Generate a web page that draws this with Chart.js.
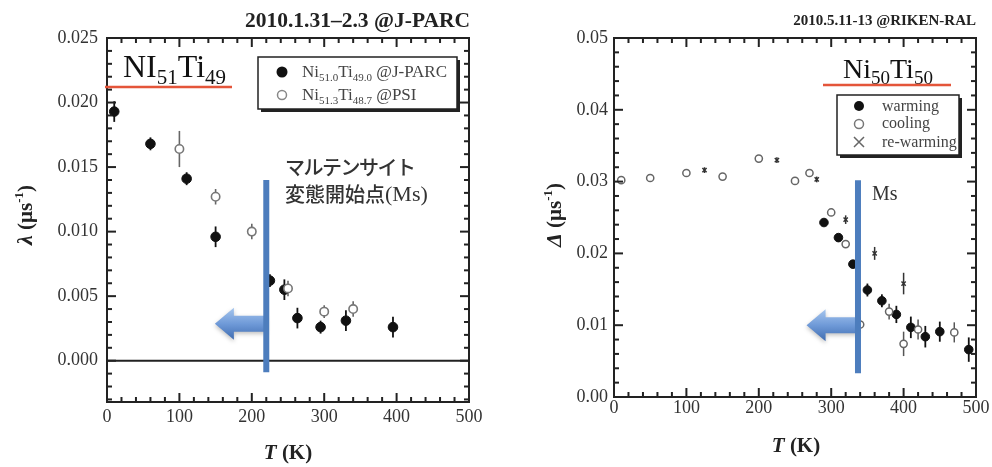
<!DOCTYPE html>
<html>
<head>
<meta charset="utf-8">
<script src="https://cdn.jsdelivr.net/npm/chart.js@4.4.1/dist/chart.umd.min.js"></script>
<style>
  html, body { margin: 0; padding: 0; background: #fff; }
  #wrap { position: relative; width: 992px; height: 467px; overflow: hidden; }
  .pane { position: absolute; top: 0; width: 496px; height: 467px; }
</style>
</head>
<body>
<div id="wrap">
  <div class="pane" style="left:0"><canvas id="left" width="496" height="467"></canvas></div>
  <div class="pane" style="left:496px"><canvas id="right" width="496" height="467"></canvas></div>
</div>
<script>
const SERIF = '"Liberation Serif", "Times New Roman", serif';
const CJK = '"Noto Sans CJK JP", sans-serif';

// ---- Ni51Ti49 relaxation rate (left panel) ----
const jparcT      = [10, 60, 110, 150, 225, 245, 263, 295, 330, 395];
const jparcLambda = [0.0193, 0.0168, 0.0141, 0.0096, 0.0062, 0.0055, 0.0033, 0.0026, 0.0031, 0.0026];
const jparcErr    = [0.0008, 0.0005, 0.0005, 0.0008, 0.0005, 0.0008, 0.0008, 0.0005, 0.0008, 0.0008];
const psiT        = [100, 150, 200, 250, 300, 340];
const psiLambda   = [0.0164, 0.0127, 0.0100, 0.0056, 0.0038, 0.0040];
const psiErr      = [0.0014, 0.0006, 0.0006, 0.0006, 0.0005, 0.0006];

// ---- Ni50Ti50 field distribution width (right panel) ----
const warmT     = [290, 310, 330, 350, 370, 390, 410, 430, 450, 490];
const warmDelta = [0.0243, 0.0222, 0.0185, 0.0149, 0.0134, 0.0115, 0.0097, 0.0084, 0.0091, 0.0066];
const warmErr   = [0.0004, 0.0004, 0.0005, 0.0009, 0.0009, 0.0012, 0.0015, 0.0015, 0.0014, 0.0017];
const coolT     = [10, 50, 100, 150, 200, 250, 270, 300, 320, 340, 380, 400, 420, 470];
const coolDelta = [0.0302, 0.0305, 0.0312, 0.0307, 0.0332, 0.0301, 0.0312, 0.0257, 0.0213, 0.0101, 0.0119, 0.0074, 0.0094, 0.0090];
const coolErr   = [0.0003, 0.0003, 0.0003, 0.0003, 0.0003, 0.0003, 0.0003, 0.0003, 0.0004, 0.0010, 0.0011, 0.0017, 0.0014, 0.0014];
const rewarmT     = [125, 225, 280, 320, 360, 400];
const rewarmDelta = [0.0316, 0.0330, 0.0303, 0.0247, 0.0200, 0.0158];
const rewarmErr   = [0.0004, 0.0004, 0.0004, 0.0006, 0.0009, 0.0015];

// ---- axis ticks ----
const tempTicks   = [0, 100, 200, 300, 400, 500];
const lambdaTicks = [0, 0.005, 0.010, 0.015, 0.020, 0.025];
const deltaTicks  = [0, 0.01, 0.02, 0.03, 0.04, 0.05];

// martensite start temperatures marked on each panel (K)
const msLeft = 220;
const msRight = 337;

function points(xs, ys, es) {
  return xs.map((x, i) => ({ x: x, y: ys[i], e: es[i] }));
}

function richText(ctx, parts, x, y, align) {
  let w = 0;
  parts.forEach(p => { ctx.font = p[1]; w += ctx.measureText(p[0]).width; });
  let cx = align === 'center' ? x - w / 2 : (align === 'right' ? x - w : x);
  ctx.textAlign = 'left';
  ctx.textBaseline = 'alphabetic';
  parts.forEach(p => {
    ctx.font = p[1];
    ctx.fillText(p[0], cx, y + (p[2] || 0));
    cx += ctx.measureText(p[0]).width;
  });
  return w;
}

// vertical error bars behind the markers
const errorBars = {
  id: 'errorBars',
  beforeDatasetsDraw(chart) {
    const { ctx, scales: { x, y } } = chart;
    chart.data.datasets.forEach(ds => {
      if (!ds.errColor) return;
      ctx.save();
      ctx.strokeStyle = ds.errColor;
      ctx.lineWidth = ds.errWidth || 1.6;
      ds.data.forEach(p => {
        if (!p.e) return;
        const px = x.getPixelForValue(p.x);
        ctx.beginPath();
        ctx.moveTo(px, y.getPixelForValue(p.y - p.e));
        ctx.lineTo(px, y.getPixelForValue(p.y + p.e));
        ctx.stroke();
      });
      ctx.restore();
    });
  }
};

// boxed frame with inward major/minor ticks on all four sides
function makeFrame(cfg) {
  return {
    id: 'axisFrame',
    afterDatasetsDraw(chart) {
      const { ctx, chartArea: a, scales: { x, y } } = chart;
      ctx.save();
      ctx.strokeStyle = '#222';
      if (cfg.zeroLine) {
        ctx.lineWidth = 2;
        const zy = y.getPixelForValue(0);
        ctx.beginPath(); ctx.moveTo(a.left, zy); ctx.lineTo(a.right, zy); ctx.stroke();
      }
      ctx.lineWidth = 2;
      for (let k = 0; k * cfg.minorX <= cfg.xMax + 1e-9; k++) {
        const v = k * cfg.minorX;
        const px = x.getPixelForValue(v);
        const len = cfg.majorX.indexOf(v) >= 0 ? 9 : 5;
        ctx.beginPath(); ctx.moveTo(px, a.bottom); ctx.lineTo(px, a.bottom - len); ctx.stroke();
        ctx.beginPath(); ctx.moveTo(px, a.top); ctx.lineTo(px, a.top + len); ctx.stroke();
      }
      const k0 = Math.ceil(cfg.yMin / cfg.minorY - 1e-6);
      for (let k = k0; k * cfg.minorY <= cfg.yMax + 1e-9; k++) {
        const v = k * cfg.minorY;
        const py = y.getPixelForValue(v);
        const major = cfg.majorY.some(t => Math.abs(t - v) < 1e-9);
        const len = major ? 9 : 5;
        ctx.beginPath(); ctx.moveTo(a.left, py); ctx.lineTo(a.left + len, py); ctx.stroke();
        ctx.beginPath(); ctx.moveTo(a.right, py); ctx.lineTo(a.right - len, py); ctx.stroke();
      }
      ctx.lineWidth = 2;
      ctx.strokeRect(a.left, a.top, a.right - a.left, a.bottom - a.top);
      ctx.restore();
    }
  };
}

function drawArrow(ctx, tipX, tailX, cy) {
  const headLen = 19, headHalf = 16, shaftHalf = 8;
  ctx.save();
  const g = ctx.createLinearGradient(0, cy - headHalf, 0, cy + headHalf);
  g.addColorStop(0, '#a6c6ee');
  g.addColorStop(0.5, '#6f9ad8');
  g.addColorStop(1, '#3f6cb0');
  ctx.fillStyle = g;
  ctx.shadowColor = 'rgba(0,0,0,0.25)';
  ctx.shadowBlur = 4;
  ctx.shadowOffsetY = 2;
  ctx.beginPath();
  ctx.moveTo(tipX, cy);
  ctx.lineTo(tipX + headLen, cy - headHalf);
  ctx.lineTo(tipX + headLen, cy - shaftHalf);
  ctx.lineTo(tailX, cy - shaftHalf);
  ctx.lineTo(tailX, cy + shaftHalf);
  ctx.lineTo(tipX + headLen, cy + shaftHalf);
  ctx.lineTo(tipX + headLen, cy + headHalf);
  ctx.closePath();
  ctx.fill();
  ctx.restore();
}

function drawMsLine(ctx, px, y1, y2) {
  ctx.save();
  ctx.strokeStyle = '#4d7dbd';
  ctx.lineWidth = 6;
  ctx.beginPath(); ctx.moveTo(px, y1); ctx.lineTo(px, y2); ctx.stroke();
  ctx.restore();
}

function legendBox(ctx, x, y, w, h) {
  ctx.save();
  ctx.fillStyle = '#222';
  ctx.fillRect(x + 3, y + 3, w, h);
  ctx.fillStyle = '#fff';
  ctx.fillRect(x, y, w, h);
  ctx.strokeStyle = '#222';
  ctx.lineWidth = 1.5;
  ctx.strokeRect(x, y, w, h);
  ctx.restore();
}

function circle(ctx, x, y, r, fill, stroke, lw) {
  ctx.beginPath(); ctx.arc(x, y, r, 0, Math.PI * 2);
  if (fill) { ctx.fillStyle = fill; ctx.fill(); }
  if (stroke) { ctx.strokeStyle = stroke; ctx.lineWidth = lw || 1.5; ctx.stroke(); }
}

// overlay annotations for the left panel
const leftNotes = {
  id: 'leftNotes',
  afterDatasetsDraw(chart) {
    const { ctx, scales: { x, y } } = chart;
    const lx = x.getPixelForValue(msLeft);
    drawArrow(ctx, x.getPixelForValue(149), lx, y.getPixelForValue(0.00286));
    drawMsLine(ctx, lx, y.getPixelForValue(0.0140), y.getPixelForValue(-0.0009));

    ctx.save();
    ctx.fillStyle = '#222';
    richText(ctx, [['2010.1.31\u20132.3 @J-PARC', 'bold 21.5px ' + SERIF]], 470, 27, 'right');

    // sample label
    ctx.fillStyle = '#111';
    richText(ctx, [
      ['NI', '32px ' + SERIF], ['51', '21px ' + SERIF, 7],
      ['Ti', '32px ' + SERIF], ['49', '21px ' + SERIF, 7]
    ], 123, 77, 'left');
    ctx.strokeStyle = '#e4553a';
    ctx.lineWidth = 2.5;
    ctx.beginPath(); ctx.moveTo(105, 87); ctx.lineTo(232, 87); ctx.stroke();

    // legend
    legendBox(ctx, 258, 57, 199, 52);
    circle(ctx, 282, 72, 5.5, '#111');
    circle(ctx, 282, 95, 4.5, '#fff', '#888', 1.5);
    ctx.fillStyle = '#444';
    richText(ctx, [
      ['Ni', '17px ' + SERIF], ['51.0', '11px ' + SERIF, 4],
      ['Ti', '17px ' + SERIF], ['49.0', '11px ' + SERIF, 4],
      [' @J-PARC', '17px ' + SERIF]
    ], 302, 77, 'left');
    richText(ctx, [
      ['Ni', '17px ' + SERIF], ['51.3', '11px ' + SERIF, 4],
      ['Ti', '17px ' + SERIF], ['48.7', '11px ' + SERIF, 4],
      [' @PSI', '17px ' + SERIF]
    ], 302, 100, 'left');

    // martensite start annotation
    ctx.fillStyle = '#333';
    ctx.textBaseline = 'middle';
    ctx.textAlign = 'left';
    ctx.font = '500 20px ' + CJK;
    ctx.letterSpacing = '-1.5px';
    ctx.fillText('マルテンサイト', 285, 167);
    ctx.letterSpacing = '0px';
    ctx.fillText('変態開始点', 285, 194);
    const kw = ctx.measureText('変態開始点').width;
    ctx.font = '22px ' + SERIF;
    ctx.fillText('(Ms)', 285 + kw, 195);

    // axis titles
    ctx.fillStyle = '#222';
    richText(ctx, [['T', 'italic bold 21px ' + SERIF], [' (K)', 'bold 21px ' + SERIF]], 288, 459, 'center');
    ctx.translate(32, 215);
    ctx.rotate(-Math.PI / 2);
    richText(ctx, [
      ['\u03bb', 'italic bold 22px ' + SERIF], [' (\u03bcs', 'bold 21px ' + SERIF],
      ['-1', 'bold 13px ' + SERIF, -9], [')', 'bold 21px ' + SERIF]
    ], 0, 0, 'center');
    ctx.restore();
  }
};

// overlay annotations for the right panel
const rightNotes = {
  id: 'rightNotes',
  afterDatasetsDraw(chart) {
    const { ctx, scales: { x, y } } = chart;
    const lx = x.getPixelForValue(msRight);
    drawArrow(ctx, x.getPixelForValue(266), lx, y.getPixelForValue(0.0100));
    drawMsLine(ctx, lx, y.getPixelForValue(0.0302), y.getPixelForValue(0.0033));

    ctx.save();
    ctx.fillStyle = '#222';
    richText(ctx, [['2010.5.11-13 @RIKEN-RAL', 'bold 15px ' + SERIF]], 480, 25, 'right');

    ctx.fillStyle = '#111';
    richText(ctx, [
      ['Ni', '28px ' + SERIF], ['50', '19px ' + SERIF, 6],
      ['Ti', '28px ' + SERIF], ['50', '19px ' + SERIF, 6]
    ], 347, 78, 'left');
    ctx.strokeStyle = '#e4553a';
    ctx.lineWidth = 2.5;
    ctx.beginPath(); ctx.moveTo(327, 85); ctx.lineTo(455, 85); ctx.stroke();

    legendBox(ctx, 341, 95, 122, 60);
    circle(ctx, 363, 106, 5, '#111');
    circle(ctx, 363, 124, 4.5, '#fff', '#777', 1.5);
    ctx.strokeStyle = '#666';
    ctx.lineWidth = 1.5;
    ctx.beginPath();
    ctx.moveTo(358, 137); ctx.lineTo(368, 147);
    ctx.moveTo(368, 137); ctx.lineTo(358, 147);
    ctx.stroke();
    ctx.fillStyle = '#444';
    richText(ctx, [['warming', '16px ' + SERIF]], 386, 111, 'left');
    richText(ctx, [['cooling', '16px ' + SERIF]], 386, 128, 'left');
    richText(ctx, [['re-warming', '16px ' + SERIF]], 386, 147, 'left');

    ctx.fillStyle = '#333';
    richText(ctx, [['Ms', '20px ' + SERIF]], 376, 200, 'left');

    ctx.fillStyle = '#222';
    richText(ctx, [['T', 'italic bold 21px ' + SERIF], [' (K)', 'bold 21px ' + SERIF]], 300, 452, 'center');
    ctx.translate(65, 215);
    ctx.rotate(-Math.PI / 2);
    richText(ctx, [
      ['\u0394', 'italic bold 22px ' + SERIF], [' (\u03bcs', 'bold 21px ' + SERIF],
      ['-1', 'bold 13px ' + SERIF, -9], [')', 'bold 21px ' + SERIF]
    ], 0, 0, 'center');
    ctx.restore();
  }
};

function baseOptions(cfg) {
  return {
    responsive: false,
    animation: false,
    events: [],
    layout: { padding: { left: 0, right: cfg.padRight, top: 38, bottom: 0 } },
    plugins: {
      legend: { display: false },
      tooltip: { enabled: false }
    },
    scales: {
      x: {
        type: 'linear', min: cfg.xMin, max: cfg.xMax,
        grid: { display: false, drawTicks: false },
        border: { display: false },
        afterBuildTicks: s => { s.ticks = tempTicks.map(v => ({ value: v })); },
        afterFit: s => { s.height = cfg.xHeight; },
        ticks: {
          autoSkip: false, maxRotation: 0, padding: cfg.xPad,
          color: '#333', font: { family: SERIF, size: 18 },
          callback: v => String(v)
        }
      },
      y: {
        type: 'linear', min: cfg.yMin, max: cfg.yMax,
        grid: { display: false, drawTicks: false },
        border: { display: false },
        afterBuildTicks: s => { s.ticks = cfg.majorY.map(v => ({ value: v })); },
        afterFit: s => { s.width = cfg.yWidth; },
        ticks: {
          autoSkip: false, padding: cfg.yPad,
          color: '#333', font: { family: SERIF, size: 18 },
          callback: v => v.toFixed(cfg.digits)
        }
      }
    }
  };
}

const leftCfg = {
  padRight: 27, xHeight: 65, xPad: 4, yWidth: 107, yPad: 9,
  xMin: 0, xMax: 500, minorX: 20, majorX: tempTicks,
  yMin: -0.0032, yMax: 0.025, majorY: lambdaTicks, minorY: 0.001, digits: 3, zeroLine: true
};
const rightCfg = {
  padRight: 16, xHeight: 70, xPad: 0, yWidth: 118, yPad: 6,
  xMin: 0, xMax: 500, minorX: 20, majorX: tempTicks,
  yMin: 0, yMax: 0.05, majorY: deltaTicks, minorY: 0.002, digits: 2, zeroLine: false
};

new Chart(document.getElementById('left'), {
  type: 'scatter',
  data: {
    datasets: [
      {
        label: 'Ni51.3Ti48.7 @PSI',
        data: points(psiT, psiLambda, psiErr),
        pointStyle: 'circle', pointRadius: 4.2,
        backgroundColor: '#fff', borderColor: '#777', borderWidth: 1.6,
        errColor: '#666', errWidth: 1.6
      },
      {
        label: 'Ni51.0Ti49.0 @J-PARC',
        data: points(jparcT, jparcLambda, jparcErr),
        pointStyle: 'circle', pointRadius: 4.8,
        backgroundColor: '#111', borderColor: '#111', borderWidth: 1,
        errColor: '#111', errWidth: 1.8
      }
    ]
  },
  options: baseOptions(leftCfg),
  plugins: [errorBars, makeFrame(leftCfg), leftNotes]
});

new Chart(document.getElementById('right'), {
  type: 'scatter',
  data: {
    datasets: [
      {
        label: 'cooling',
        data: points(coolT, coolDelta, coolErr),
        pointStyle: 'circle', pointRadius: 3.6,
        backgroundColor: '#fff', borderColor: '#666', borderWidth: 1.5,
        errColor: '#555', errWidth: 1.5
      },
      {
        label: 're-warming',
        data: points(rewarmT, rewarmDelta, rewarmErr),
        pointStyle: 'crossRot', pointRadius: 3,
        backgroundColor: '#333', borderColor: '#333', borderWidth: 1.5,
        errColor: '#333', errWidth: 1.5
      },
      {
        label: 'warming',
        data: points(warmT, warmDelta, warmErr),
        pointStyle: 'circle', pointRadius: 4.3,
        backgroundColor: '#111', borderColor: '#111', borderWidth: 1,
        errColor: '#111', errWidth: 1.8
      }
    ]
  },
  options: baseOptions(rightCfg),
  plugins: [errorBars, makeFrame(rightCfg), rightNotes]
});
</script>
</body>
</html>
